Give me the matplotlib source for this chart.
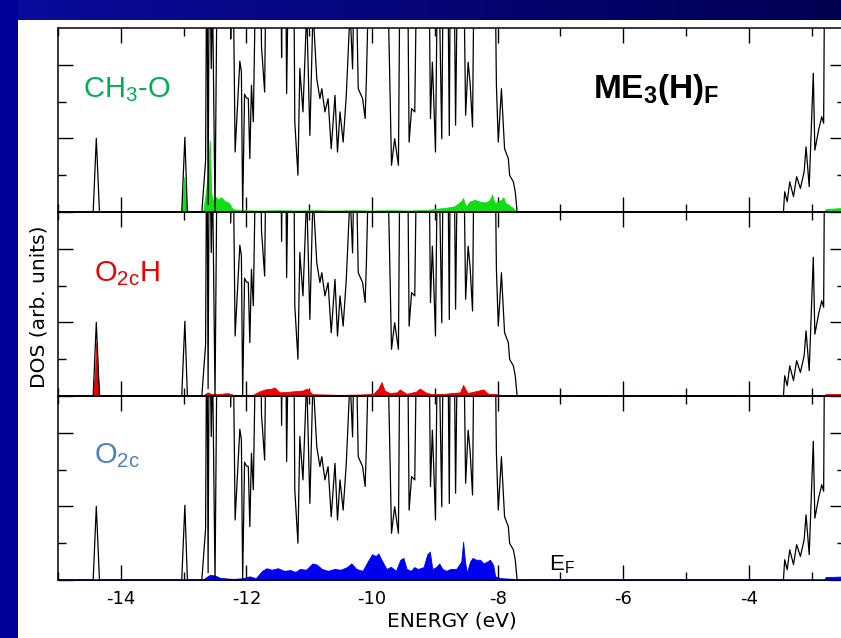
import numpy as np
import matplotlib
matplotlib.use("Agg")
import matplotlib.pyplot as plt

plt.rcParams['axes.unicode_minus'] = False
plt.rcParams['mathtext.fontset'] = 'custom'
plt.rcParams['mathtext.rm'] = 'Liberation Sans'
plt.rcParams['mathtext.it'] = 'Liberation Sans:italic'
plt.rcParams['mathtext.bf'] = 'Liberation Sans:bold'

# ---- total DOS (same curve in every panel); values above 5 run off the panel
E_total = [-15.0, -14.44, -14.39, -14.34,
           -13.03, -12.98, -12.94,
           -12.71, -12.65, -12.63, -12.61, -12.59, -12.56, -12.54, -12.50, -12.46,
           -12.27, -12.25, -12.22, -12.18, -12.105, -12.08, -12.06, -12.03, -12.0,
           -11.97, -11.946, -11.92, -11.89, -11.84, -11.79, -11.76, -11.71, -11.68,
           -11.46, -11.44, -11.42, -11.38, -11.36, -11.32, -11.25, -11.23, -11.18,
           -11.15, -11.10, -11.04, -10.99, -10.94, -10.88, -10.83, -10.80, -10.75,
           -10.70, -10.65, -10.59, -10.55, -10.51, -10.46, -10.41, -10.35, -10.31,
           -10.27, -10.22, -10.15, -10.11, -10.09, -10.03,
           -9.77, -9.69, -9.64, -9.58, -9.55, -9.44, -9.41, -9.37, -9.32, -9.28,
           -9.10, -9.07, -9.04, -9.02, -8.99, -8.95, -8.89, -8.86, -8.80, -8.77,
           -8.75, -8.70, -8.67, -8.63, -8.55, -8.51, -8.47, -8.44, -8.40, -8.37,
           -8.05, -8.02, -7.99, -7.94, -7.91, -7.89, -7.83, -7.81, -7.75, -7.72, -7.69,
           -3.45, -3.43, -3.39, -3.35, -3.29, -3.24, -3.18, -3.12, -3.09, -3.04,
           -2.975, -2.95, -2.89, -2.84, -2.81, -2.79, -2.40]
dos_total = [0, 0, 2.0, 0,
             0, 2.03, 0,
             0, 1.4, 8, 0.2, 8, 3.9, 6, 0, 8,
             8, 4.7, 8, 1.63, 4.1, 3.8, 0, 3.2, 3.1,
             3.08, 1.45, 3.44, 2.45, 8, 8, 4.5, 3.26, 8,
             8, 4.2, 8, 8, 3.22, 8, 8, 2.45, 1.0,
             3.9, 2.72, 5.5, 2.08, 5.5, 3.62, 3.08, 3.35, 2.72,
             3.08, 1.72, 3.17, 1.63, 2.72, 1.9, 3.17, 5.5, 3.89,
             8, 3.35, 3.08, 2.54, 3.62, 8,
             8, 1.27, 1.99, 1.27, 8, 8, 1.9, 2.81, 2.72, 8,
             8, 2.54, 4.07, 3.17, 1.63, 8, 1.99, 8, 8, 2.08,
             8, 8, 2.36, 8, 8, 2.63, 4.07, 3.53, 2.31, 8,
             8, 3.44, 1.9, 3.35, 2.36, 1.72, 1.45, 1.0, 0.82, 0.55, 0,
             0, 0.55, 0.28, 0.82, 0.42, 0.96, 0.64, 1.1, 1.77, 0.69,
             3.77, 1.68, 2.23, 2.59, 2.41, 8, 8]

# ---- projected DOS: CH3-O
E_ch3o = [-15.0, -13.03, -12.99, -12.95, -12.69, -12.64, -12.61, -12.585, -12.56,
          -12.53, -12.50, -12.45, -12.40, -12.35, -12.28, -12.22, -12.10, -11.8,
          -11.5, -11.2, -10.9, -10.6, -10.3, -10.0, -9.7, -9.4, -9.1, -9.03, -8.9,
          -8.81, -8.70, -8.65, -8.58, -8.55, -8.52, -8.50, -8.45, -8.42, -8.36,
          -8.28, -8.20, -8.14, -8.10, -8.09, -8.06, -8.045, -7.99, -7.93, -7.91,
          -7.88, -7.83, -7.75, -7.70, -2.80, -2.78, -2.6, -2.40]
dos_ch3o = [0, 0, 0.95, 0, 0, 0.6, 1.2, 1.95, 0.5,
            0.3, 0.42, 0.35, 0.4, 0.3, 0.25, 0.08, 0.05, 0.04,
            0.05, 0.04, 0.05, 0.04, 0.05, 0.04, 0.05, 0.04, 0.06, 0.08, 0.1,
            0.12, 0.15, 0.2, 0.3, 0.38, 0.2, 0.15, 0.28, 0.3, 0.33,
            0.28, 0.26, 0.3, 0.42, 0.48, 0.3, 0.25, 0.28, 0.35, 0.4,
            0.25, 0.2, 0.1, 0, 0, 0.08, 0.1, 0.12]

# ---- projected DOS: O2c-H
E_o2ch = [-15.0, -14.44, -14.41, -14.39, -14.37, -14.34, -12.70, -12.62, -12.55,
          -12.45, -12.30, -12.2, -11.9, -11.80, -11.70, -11.60, -11.55, -11.47,
          -11.30, -11.10, -11.04, -10.95, -10.5, -10.2, -9.98, -9.90, -9.85,
          -9.80, -9.72, -9.60, -9.56, -9.45, -9.30, -9.24, -9.15, -9.05, -8.85,
          -8.60, -8.55, -8.48, -8.30, -8.23, -8.15, -8.05, -7.95, -7.70, -2.80,
          -2.78, -2.40]
dos_o2ch = [0, 0, 0.7, 1.45, 0.7, 0, 0, 0.1, 0.05,
            0.05, 0.08, 0.03, 0.03, 0.12, 0.18, 0.2, 0.23, 0.1,
            0.12, 0.15, 0.2, 0.05, 0.03, 0.04, 0.06, 0.2, 0.38,
            0.15, 0.08, 0.1, 0.18, 0.06, 0.12, 0.2, 0.1, 0.05, 0.06,
            0.1, 0.3, 0.08, 0.15, 0.18, 0.06, 0.06, 0.03, 0, 0,
            0.05, 0.06]

# ---- projected DOS: O2c
E_o2c = [-15.0, -12.70, -12.62, -12.58, -12.50, -12.42, -12.30, -12.20, -12.05,
         -11.95, -11.85, -11.75, -11.68, -11.60, -11.50, -11.40, -11.30, -11.22,
         -11.15, -11.05, -10.95, -10.88, -10.80, -10.70, -10.60, -10.50, -10.40,
         -10.33, -10.25, -10.15, -10.07, -10.00, -9.94, -9.90, -9.85, -9.77,
         -9.70, -9.62, -9.55, -9.50, -9.45, -9.38, -9.33, -9.27, -9.18, -9.12,
         -9.08, -9.04, -8.98, -8.93, -8.88, -8.82, -8.75, -8.66, -8.58, -8.55,
         -8.52, -8.49, -8.44, -8.40, -8.34, -8.28, -8.22, -8.17, -8.12, -8.07,
         -8.04, -7.95, -7.75, -7.68, -2.80, -2.78, -2.40]
dos_o2c = [0, 0, 0.1, 0.14, 0.12, 0.06, 0.04, 0.03, 0.05,
           0.1, 0.05, 0.25, 0.32, 0.28, 0.32, 0.25, 0.27, 0.22,
           0.3, 0.28, 0.45, 0.42, 0.3, 0.25, 0.3, 0.28, 0.35,
           0.45, 0.3, 0.25, 0.5, 0.7, 0.65, 0.72, 0.55, 0.3,
           0.36, 0.25, 0.55, 0.6, 0.3, 0.25, 0.35, 0.3, 0.35, 0.7,
           0.77, 0.3, 0.35, 0.45, 0.3, 0.25, 0.3, 0.3, 0.5, 1.04,
           0.5, 0.2, 0.5, 0.6, 0.55, 0.55, 0.45, 0.5, 0.55, 0.4,
           0.1, 0.05, 0.03, 0, 0, 0.08, 0.1]

panels = [
    (E_ch3o, dos_ch3o, '#12DD12', r'CH$_\mathrm{3}$-O', '#00B050', 97),
    (E_o2ch, dos_o2ch, '#EE0000', r'O$_\mathrm{2c}$H', '#F00000', 281),
    (E_o2c, dos_o2c, '#0000EE', r'O$_\mathrm{2c}$', '#4F81BD', 463),
]

W, H = 841, 638
fig = plt.figure(figsize=(W / 100, H / 100), dpi=100)

# slide background: blue band on the left and a darkening band along the top
bg = fig.add_axes([0, 0, 1, 1], zorder=-10)
bg.axis('off')
img = np.ones((H, W, 3))
ramp = np.linspace(0, 1, W)
img[:20, :, 0] = 0.04 * (1 - ramp)
img[:20, :, 1] = 0.04 * (1 - ramp)
img[:20, :, 2] = 0.62 - 0.30 * ramp
img[:, :18, :] = [0.0, 0.0, 0.60]
bg.imshow(img, aspect='auto', extent=(0, 1, 0, 1), interpolation='bilinear')


def fx(px):
    return px / W


def fy(py):
    return 1 - py / H


x_left, x_right = 58, 845
panel_tops = [28, 212, 396]
panel_h = 184

axes = []
for i, (E_p, d_p, fill_c, label, label_c, base_y) in enumerate(panels):
    top = panel_tops[i]
    ax = fig.add_axes([fx(x_left), fy(top + panel_h), (x_right - x_left) / W, panel_h / H])
    ax.set_facecolor('none')
    ax.fill_between(E_p, 0, d_p, color=fill_c, linewidth=0.6, zorder=2)
    ax.plot(E_total, dos_total, color='black', linewidth=0.9, zorder=3)
    ax.set_xlim(-15, -2.47)
    ax.set_ylim(0, 5)
    ax.set_xticks(np.arange(-14, -2.5, 2))
    ax.set_xticks(np.arange(-15, -2.5, 1), minor=True)
    ax.set_yticks([0, 2, 4])
    ax.set_yticks([1, 3], minor=True)
    ax.set_yticklabels([])
    ax.tick_params(which='both', direction='in', top=True, right=True, width=1.0)
    ax.tick_params(which='major', length=10.5)
    ax.tick_params(which='minor', length=5.5)
    for s in ax.spines.values():
        s.set_linewidth(1.1)
    if i < 2:
        ax.set_xticklabels([])
    else:
        ax.tick_params(axis='x', labelsize=13, pad=7)
    axes.append(ax)
    fig.text(fx(83 if i == 0 else 94), fy(base_y), label, color=label_c,
             fontsize=21, family='Liberation Sans', va='baseline', ha='left')

fig.text(fx(593), fy(98), r'$\mathbf{ME_{3}(H)_{F}}$', color='black',
         fontsize=24, va='baseline', ha='left')
fig.text(fx(549), fy(570), r'E$_\mathrm{F}$', color='black',
         fontsize=16, family='Liberation Sans', va='baseline', ha='left')

fig.text(fx(39), fy(307), 'DOS (arb. units)', rotation=90, ha='center',
         va='center', fontsize=14.5)
fig.text(fx(452), fy(621), 'ENERGY (eV)', ha='center', va='center', fontsize=14.5)

fig.savefig('out.png', dpi=100)
